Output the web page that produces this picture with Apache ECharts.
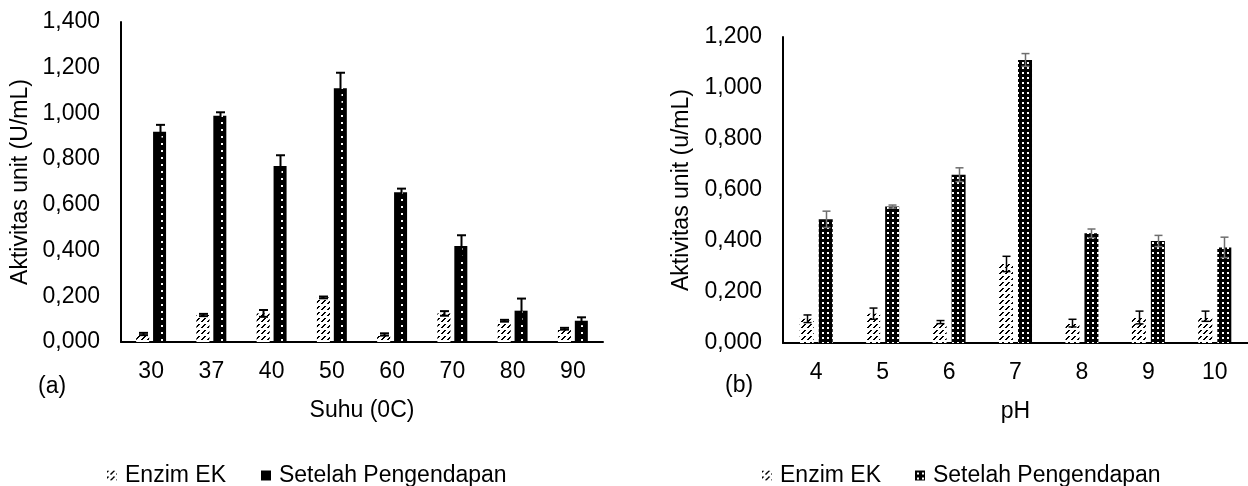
<!DOCTYPE html>
<html>
<head>
<meta charset="utf-8">
<script src="https://cdn.jsdelivr.net/npm/echarts@6/dist/echarts.min.js"></script>
<style>
	html, body { margin: 0; padding: 0; background: #fff; }
	#chart { width: 1248px; height: 486px; }
</style>
</head>
<body>
<div id="chart"></div>
<script>
// (a) suhu
var suhuLabels = ['30', '37', '40', '50', '60', '70', '80', '90'];
var suhuEnzim = [0.035, 0.118, 0.125, 0.195, 0.033, 0.125, 0.093, 0.058];
var suhuEnzimErr = [0.005, 0.005, 0.015, 0.004, 0.005, 0.010, 0.004, 0.004];
var suhuEndap = [0.920, 0.990, 0.770, 1.110, 0.655, 0.420, 0.137, 0.093];
var suhuEndapErr = [0.030, 0.015, 0.047, 0.068, 0.016, 0.047, 0.053, 0.015];

// (b) pH
var phLabels = ['4', '5', '6', '7', '8', '9', '10'];
var phEnzim = [0.095, 0.115, 0.082, 0.310, 0.078, 0.100, 0.105];
var phEnzimErr = [0.015, 0.022, 0.006, 0.030, 0.015, 0.025, 0.020];
var phEndap = [0.485, 0.535, 0.660, 1.110, 0.430, 0.400, 0.375];
var phEndapErr = [0.032, 0.006, 0.027, 0.025, 0.017, 0.022, 0.040];

var FONT = 'Liberation Sans, Arial, sans-serif';

function tile(w, h, draw) {
	var c = document.createElement('canvas');
	c.width = w;
	c.height = h;
	draw(c.getContext('2d'), w, h);
	return { image: c, repeat: 'repeat' };
}

// white with dashed "/" lines
var hatch = tile(6, 6, function(ctx, w, h) {
	ctx.fillStyle = '#fff';
	ctx.fillRect(0, 0, w, h);
	ctx.fillStyle = '#000';
	for (var y = 0; y < h; y++)
		for (var x = 0; x < w; x++)
			if ((x + y) % 6 < 2 && y < 4) ctx.fillRect(x, y, 1, 1);
});

// black with one sparse column of white dots
var blackDots = tile(60, 7, function(ctx, w, h) {
	ctx.fillStyle = '#000';
	ctx.fillRect(0, 0, w, h);
	ctx.fillStyle = '#fff';
	ctx.fillRect(41, 3, 2, 2);
});

// black with white dot grid
var dotGrid = tile(5, 5, function(ctx, w, h) {
	ctx.fillStyle = '#000';
	ctx.fillRect(0, 0, w, h);
	ctx.fillStyle = '#fff';
	ctx.fillRect(2, 2, 2, 2);
});

function fmt(v) {
	return v.toFixed(3).replace('.', ',');
}

function errData(vals, errs) {
	var out = [], i;
	for (i = 0; i < vals.length; i++) out.push([i, vals[i], errs[i]]);
	return out;
}

function errSeries(name, grid, vals, errs, offset, cap, color, lw) {
	return {
		type: 'custom',
		name: name,
		xAxisIndex: grid,
		yAxisIndex: grid,
		z: 5,
		silent: true,
		data: errData(vals, errs),
		encode: { x: 0, y: 1 },
		renderItem: function(params, api) {
			var i = api.value(0),
				v = api.value(1),
				e = api.value(2),
				top = api.coord([i, v + e]),
				bot = api.coord([i, v - e]),
				x = Math.round(top[0] + offset) + 0.5,
				st = { stroke: color, lineWidth: lw };
			return {
				type: 'group',
				children: [
					{ type: 'line', shape: { x1: x, y1: top[1], x2: x, y2: bot[1] }, style: st },
					{ type: 'line', shape: { x1: x - cap / 2, y1: top[1], x2: x + cap / 2, y2: top[1] }, style: st },
					{ type: 'line', shape: { x1: x - cap / 2, y1: bot[1], x2: x + cap / 2, y2: bot[1] }, style: st }
				]
			};
		}
	};
}

function yAxis(grid, max, gap, name) {
	return {
		gridIndex: grid,
		type: 'value',
		min: 0,
		max: max,
		interval: 0.2,
		name: name,
		nameLocation: 'middle',
		nameGap: gap,
		nameTextStyle: { color: '#000', fontSize: 23, fontFamily: FONT },
		axisLine: { show: true, lineStyle: { color: '#000', width: 2 } },
		axisTick: { show: false },
		splitLine: { show: false },
		axisLabel: { color: '#000', fontSize: 23, fontFamily: FONT, margin: 21, formatter: fmt }
	};
}

function xAxis(grid, labels, name) {
	return {
		gridIndex: grid,
		type: 'category',
		data: labels,
		name: name,
		nameLocation: 'middle',
		nameGap: 57,
		nameTextStyle: { color: '#000', fontSize: 23, fontFamily: FONT },
		axisLine: { lineStyle: { color: '#000', width: 2 } },
		axisTick: { show: false },
		axisLabel: { color: '#000', fontSize: 23, fontFamily: FONT, margin: 18 }
	};
}

var chart = echarts.init(document.getElementById('chart'), null, { renderer: 'canvas' });

var option = {
	animation: false,
	backgroundColor: '#fff',
	grid: [
		{ left: 121, top: 22, width: 482, height: 320 },
		{ left: 783, top: 37, width: 466, height: 306 }
	],
	xAxis: [
		xAxis(0, suhuLabels, 'Suhu (0C)'),
		xAxis(1, phLabels, 'pH')
	],
	yAxis: [
		yAxis(0, 1.4, 89, 'Aktivitas unit (U/mL)'),
		yAxis(1, 1.2, 90, 'Aktivitas unit (u/mL)')
	],
	legend: [
		{
			left: 102,
			top: 459,
			itemWidth: 10,
			itemHeight: 10,
			itemGap: 35,
			icon: 'rect',
			textStyle: { color: '#000', fontSize: 23, fontFamily: FONT, padding: [0, 0, 0, 3] },
			data: [
				{ name: 'Enzim EK', itemStyle: { color: hatch } },
				{ name: 'Setelah Pengendapan', itemStyle: { color: '#000' } }
			]
		},
		{
			left: 757,
			top: 459,
			itemWidth: 10,
			itemHeight: 10,
			itemGap: 34,
			icon: 'rect',
			textStyle: { color: '#000', fontSize: 23, fontFamily: FONT, padding: [0, 0, 0, 3] },
			data: [
				{ name: 'Enzim EK', itemStyle: { color: hatch } },
				{ name: 'Setelah Pengendapan', itemStyle: { color: dotGrid } }
			]
		}
	],
	graphic: [
		{ type: 'text', left: 38, top: 375, style: { text: '(a)', fill: '#000', font: '23px ' + FONT } },
		{ type: 'text', left: 725, top: 374, style: { text: '(b)', fill: '#000', font: '23px ' + FONT } }
	],
	series: [
		{
			type: 'bar', name: 'Enzim EK', xAxisIndex: 0, yAxisIndex: 0,
			barWidth: 13, barGap: '30%',
			itemStyle: { color: hatch },
			data: suhuEnzim
		},
		{
			type: 'bar', name: 'Setelah Pengendapan', xAxisIndex: 0, yAxisIndex: 0,
			barWidth: 13, barGap: '30%',
			itemStyle: { color: blackDots },
			data: suhuEndap
		},
		{
			type: 'bar', name: 'Enzim EK', xAxisIndex: 1, yAxisIndex: 1,
			barWidth: 14, barGap: '36%',
			itemStyle: { color: hatch },
			data: phEnzim
		},
		{
			type: 'bar', name: 'Setelah Pengendapan', xAxisIndex: 1, yAxisIndex: 1,
			barWidth: 14, barGap: '36%',
			itemStyle: { color: dotGrid },
			data: phEndap
		},
		errSeries('errA1', 0, suhuEnzim, suhuEnzimErr, -8.5, 9, '#000', 2),
		errSeries('errA2', 0, suhuEndap, suhuEndapErr, 8.5, 9, '#000', 2),
		errSeries('errB1', 1, phEnzim, phEnzimErr, -9.5, 8, '#000', 1.5),
		errSeries('errB2', 1, phEndap, phEndapErr, 9.5, 8, '#6e6e6e', 1.5)
	]
};

chart.setOption(option);
</script>
</body>
</html>
